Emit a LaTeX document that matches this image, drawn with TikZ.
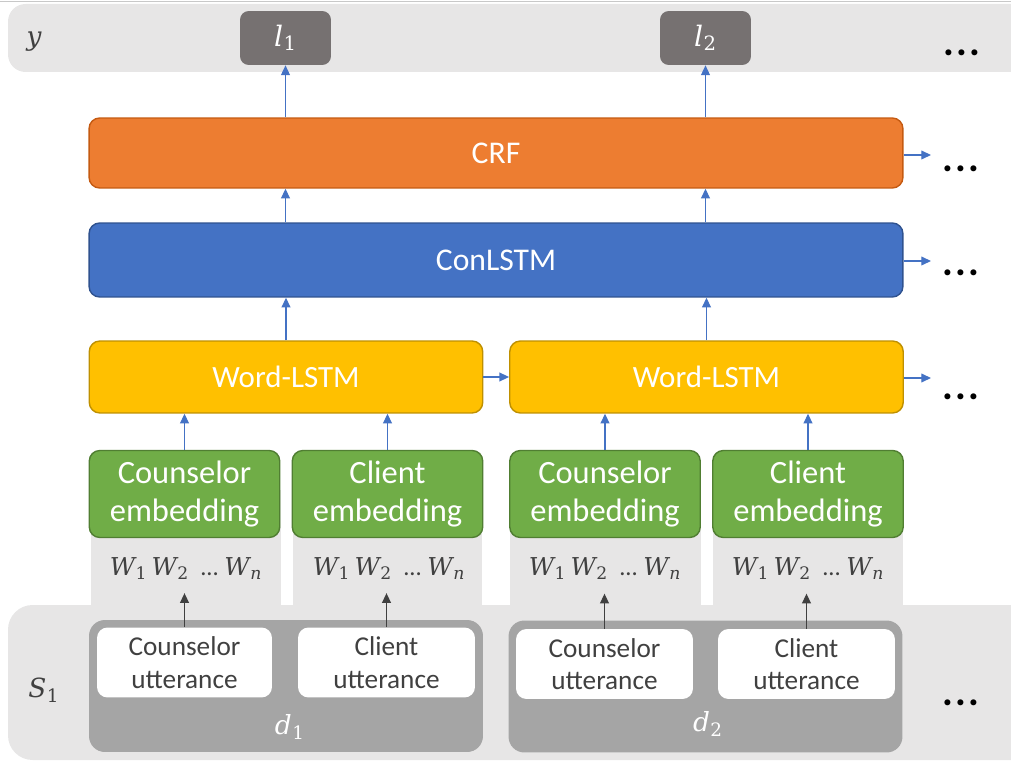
\documentclass[tikz,border=0pt]{standalone}
\usepackage{fontspec}
\setmainfont{Carlito}
\newfontfamily\varfont{DejaVu Serif}
\usetikzlibrary{arrows.meta}

% italic variable, optionally with a subscript
\newcommand\ivar[1]{{\varfont\itshape #1}}
\newcommand\svar[2]{{\varfont\itshape #1}\kern0.3pt{\varfont\textsubscript{#2}}}

\definecolor{bandgray}{HTML}{E7E6E6}
\definecolor{labelgray}{HTML}{767171}
\definecolor{dgray}{HTML}{A5A5A5}
\definecolor{crffill}{HTML}{ED7D31}
\definecolor{crfline}{HTML}{C55A11}
\definecolor{lstmfill}{HTML}{4472C4}
\definecolor{lstmline}{HTML}{2F528F}
\definecolor{wordfill}{HTML}{FFC000}
\definecolor{wordline}{HTML}{BF9000}
\definecolor{embfill}{HTML}{70AD47}
\definecolor{embline}{HTML}{507E32}
\definecolor{arrowblue}{HTML}{4472C4}
\definecolor{textdark}{HTML}{404040}
\definecolor{framegray}{HTML}{C8C8C8}

\tikzset{
  layerbox/.style={draw, line width=0.8pt, rounded corners=6pt, inner sep=0pt,
    text=white, font=\fontsize{18}{20}\selectfont},
  crfbox/.style={layerbox, fill=crffill, draw=crfline, minimum width=16.28cm, minimum height=1.4cm},
  conbox/.style={layerbox, fill=lstmfill, draw=lstmline, minimum width=16.28cm, minimum height=1.48cm},
  wordbox/.style={layerbox, fill=wordfill, draw=wordline, minimum width=7.87cm, minimum height=1.44cm,
    font=\fontsize{17.6}{20}\selectfont},
  embbox/.style={layerbox, fill=embfill, draw=embline, minimum width=3.81cm, minimum height=1.74cm,
    align=center, font=\fontsize{18.5}{21.5}\selectfont},
  outbox/.style={rounded corners=5pt, fill=labelgray, inner sep=0pt,
    minimum width=1.82cm, minimum height=1.08cm, text=white, font=\fontsize{16}{18}\selectfont},
  dialbox/.style={rounded corners=9pt, fill=dgray, inner sep=0pt,
    minimum width=7.88cm, minimum height=2.64cm},
  uttbox/.style={rounded corners=6pt, fill=white, inner sep=0pt, minimum height=1.4cm,
    align=center, text=textdark, font=\fontsize{15.5}{18.5}\selectfont},
  wordrow/.style={inner sep=1pt, text=textdark, font=\fontsize{14}{16}\selectfont},
  sidelabel/.style={inner sep=0pt, text=textdark, font=\fontsize{15}{16}\selectfont},
  dlabel/.style={inner sep=1pt, text=white, font=\fontsize{15}{16}\selectfont},
  more/.style={inner sep=0pt, anchor=base, text=black, font=\bfseries\fontsize{23}{23}\selectfont},
  flow/.style={draw=arrowblue, line width=0.7pt, -{Triangle[length=5.5pt,width=5pt]}},
  feed/.style={draw=textdark, line width=0.7pt, -{Triangle[length=5.5pt,width=5pt]}},
}
\newcommand\moredots{.\kern1.2pt.\kern1.2pt.}
\newcommand\wseq{\svar{W}{1}\,\svar{W}{2}\ \ ...\ \svar{W}{\itshape n}}

\begin{document}
\begin{tikzpicture}[x=0.02cm, y=-0.02cm]
\useasboundingbox (0,0) rectangle (1011,763);
\clip (0,0) rectangle (1011,763);

% background bands
\draw[framegray, line width=0.6pt] (0,1.5) -- (1011,1.5);
\fill[bandgray, rounded corners=10pt] (8,4) rectangle (1040,72);
\fill[bandgray] (91,490) rectangle (281,615);
\fill[bandgray] (293,490) rectangle (482,615);
\fill[bandgray] (510,490) rectangle (701,615);
\fill[bandgray] (713,490) rectangle (903,615);
\fill[bandgray, rounded corners=14pt] (8,605) rectangle (1040,760);

% output row
\node[sidelabel] (ylab) at (34,42) {\ivar{y}};
\node[outbox] (l1) at (285.5,38) {\svar{l}{1}};
\node[outbox] (l2) at (705.5,38) {\svar{l}{2}};
\node[more] (mtop) at (962,56) {\moredots};

% network layers
\node[crfbox] (crf) at (496,153) {CRF};
\node[conbox] (con) at (496,260) {ConLSTM};
\node[wordbox] (wl1) at (286,377) {Word-LSTM};
\node[wordbox] (wl2) at (706.5,377) {Word-LSTM};

\node[embbox] (ce1) at (184.5,494) {Counselor\\embedding};
\node[embbox] (cl1) at (387.5,494) {Client\\embedding};
\node[embbox] (ce2) at (605,494) {Counselor\\embedding};
\node[embbox] (cl2) at (808,494) {Client\\embedding};

% word sequences
\node[wordrow] (w1) at (186,569) {\wseq};
\node[wordrow] (w2) at (389,569) {\wseq};
\node[wordrow] (w3) at (605,569) {\wseq};
\node[wordrow] (w4) at (808,569) {\wseq};

% dialogue turns
\node[sidelabel] (slab) at (44,690) {\svar{S}{1}};
\node[dialbox] (d1) at (286,686) {};
\node[dialbox] (d2) at (705.5,686.5) {};
\node[uttbox, minimum width=3.5cm] (cu1) at (184.5,662.5) {Counselor\\utterance};
\node[uttbox, minimum width=3.54cm] (cc1) at (386.5,662.5) {Client\\utterance};
\node[uttbox, minimum width=3.54cm] (cu2) at (604.5,664) {Counselor\\utterance};
\node[uttbox, minimum width=3.54cm] (cc2) at (806.5,664) {Client\\utterance};
\node[dlabel] (d1lab) at (290,727) {\svar{d}{1}};
\node[dlabel] (d2lab) at (708,724) {\svar{d}{2}};
\node[more] (mbot) at (961,705) {\moredots};

% utterances feed the word sequences
\draw[feed] (cu1.north) -- ++(0,-34);
\draw[feed] (cc1.north) -- ++(0,-34);
\draw[feed] (cu2.north) -- ++(0,-35);
\draw[feed] (cc2.north) -- ++(0,-35);

% embeddings into Word-LSTM
\draw[flow] (ce1.north) -- (ce1.north |- wl1.south);
\draw[flow] (cl1.north) -- (cl1.north |- wl1.south);
\draw[flow] (ce2.north) -- (ce2.north |- wl2.south);
\draw[flow] (cl2.north) -- (cl2.north |- wl2.south);

% upward flow through the layers
\draw[flow] (wl1.north) -- (wl1.north |- con.south);
\draw[flow] (wl2.north) -- (wl2.north |- con.south);
\draw[flow] (l1.south |- con.north) -- (l1.south |- crf.south);
\draw[flow] (l2.south |- con.north) -- (l2.south |- crf.south);
\draw[flow] (l1.south |- crf.north) -- (l1.south);
\draw[flow] (l2.south |- crf.north) -- (l2.south);

% recurrence to the next step
\draw[flow] (wl1.east) -- (wl2.west);
\coordinate (crfout) at (931,155);
\coordinate (conout) at (931,261);
\coordinate (wordout) at (931,378);
\draw[flow] (crf.east |- crfout) -- (crfout);
\draw[flow] (con.east |- conout) -- (conout);
\draw[flow] (wl2.east |- wordout) -- (wordout);
\node[more] (mcrf) at (961,172) {\moredots};
\node[more] (mcon) at (961,276) {\moredots};
\node[more] (mword) at (961,399) {\moredots};
\end{tikzpicture}
\end{document}
